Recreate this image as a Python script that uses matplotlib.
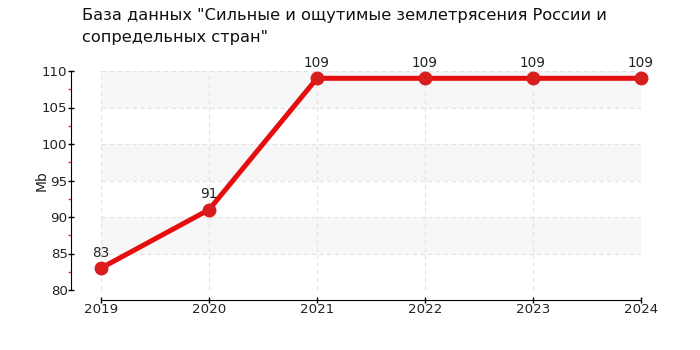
import numpy as np
import matplotlib
matplotlib.use("Agg")
import matplotlib.pyplot as plt
from matplotlib.ticker import MultipleLocator

# data
years = [2019, 2020, 2021, 2022, 2023, 2024]
sizes = [83, 91, 109, 109, 109, 109]
title = 'База данных "Сильные и ощутимые землетрясения России и\nсопредельных стран"'

plt.rcParams['font.family'] = ['DejaVu Sans']

fig = plt.figure(figsize=(7, 3.5), dpi=100)
ax = fig.add_axes([101 / 700, 1 - 290 / 350, 540 / 700, 219 / 350])

ax.set_xlim(2019, 2024)
ax.set_ylim(80, 110)

# alternating bands
for lo in (85, 95, 105):
    ax.axhspan(lo, lo + 5, color="#f7f7f7", zorder=0, lw=0)

ax.grid(True, color="#e2e2e2", linestyle=(0, (4, 3)), linewidth=0.8)
ax.set_axisbelow(True)

ax.plot(years, sizes, color="#e50d0d", linewidth=3.6, zorder=3,
        marker="o", markersize=9, markerfacecolor="#d91c1c",
        markeredgecolor="#d91c1c", clip_on=False)
for x, y in zip(years, sizes):
    ax.annotate(str(y), (x, y), xytext=(0, 6), textcoords="offset points",
                ha="center", va="bottom", fontsize=9.8, color="#222222")

ax.xaxis.set_major_locator(MultipleLocator(1))
ax.yaxis.set_major_locator(MultipleLocator(5))
ax.yaxis.set_minor_locator(MultipleLocator(2.5))

for s in ("top", "right"):
    ax.spines[s].set_visible(False)
ax.spines["left"].set_position(("outward", 21.6))
ax.spines["bottom"].set_position(("outward", 7.2))

ax.tick_params(axis="both", which="major", labelsize=9.6, length=4,
               direction="inout", width=1, color="black",
               labelcolor="#222222", pad=0.5)
ax.tick_params(axis="y", which="minor", length=2, width=1, color="#e33")

ax.set_ylabel("Mb", fontsize=10, color="#222222", labelpad=-5)

fig.text(82 / 700, 1 - 8 / 350, title, ha="left", va="top", fontsize=11.7,
         linespacing=1.62, color="#111111")

fig.savefig("out.png", dpi=100)
